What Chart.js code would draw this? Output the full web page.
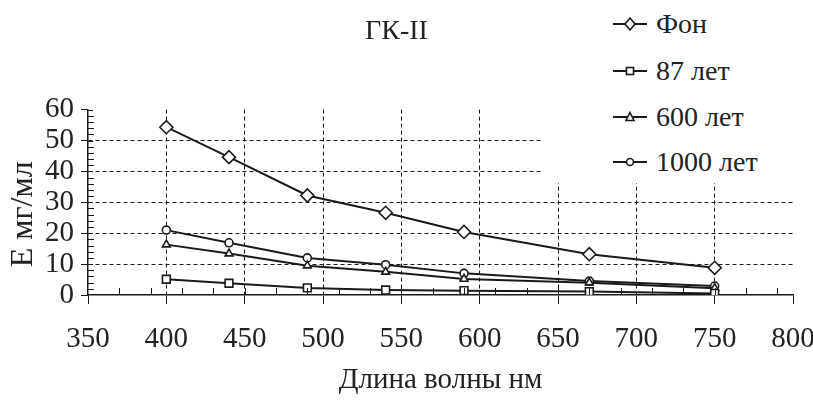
<!DOCTYPE html>
<html><head><meta charset="utf-8">
<script src="https://cdn.jsdelivr.net/npm/chart.js@4/dist/chart.umd.min.js"></script>
<style>
html,body{margin:0;padding:0;background:#fff;}
#legend{position:absolute;left:543px;top:0;width:270px;height:183px;background:#fff;font-size:28px;color:#222;}
</style>
</head><body>
<div style="position:relative;width:813px;height:406px;">
<canvas id="c" width="813" height="406"></canvas>
<div id="legend"></div>
</div>
<script>
// ---- data ----
const wavelengths = [400, 440, 490, 540, 590, 670, 750];
const seriesNames = ['Фон', '87 лет', '600 лет', '1000 лет'];
const fonValues   = [54.3, 44.6, 32.2, 26.6, 20.4, 13.2, 8.8];
const y87Values   = [5.1, 3.8, 2.3, 1.6, 1.4, 1.1, 0.5];
const y600Values  = [16.3, 13.4, 9.5, 7.5, 5.2, 4.0, 2.2];
const y1000Values = [21.0, 16.9, 12.0, 9.8, 7.0, 4.5, 2.9];
const xTickLabels = [350, 400, 450, 500, 550, 600, 650, 700, 750, 800];
const yTickLabels = [0, 10, 20, 30, 40, 50, 60];
const chartTitle = 'ГК-II';
const xTitle = 'Длина волны нм';
const yTitle = 'Е мг/мл';

const seriesValues = [fonValues, y87Values, y600Values, y1000Values];
const markerStyles = ['rectRot', 'rect', 'triangle', 'circle'];
const markerRadius = [6.5, 5.5, 4.5, 4];
const INK = '#1a1a1a';
const SERIF = "'Liberation Serif'";

const datasets = seriesNames.map((name, i) => ({
  label: name,
  data: wavelengths.map((w, k) => ({x: w, y: seriesValues[i][k]})),
  borderColor: INK,
  borderWidth: 2,
  backgroundColor: '#fff',
  pointStyle: markerStyles[i],
  pointRadius: markerRadius[i],
  pointBorderWidth: 1.6,
  pointBorderColor: INK,
  pointBackgroundColor: '#fff',
  tension: 0,
  fill: false
}));

// inward minor tick marks (axis decoration)
const minorTicks = {
  id: 'minorTicks',
  afterDraw(chart) {
    const {ctx, scales: {x, y}} = chart;
    ctx.save();
    ctx.strokeStyle = INK;
    ctx.lineWidth = 1;
    ctx.beginPath();
    const y0 = y.getPixelForValue(0);
    for (let v = 370; v <= 790; v += 20) {
      const px = Math.round(x.getPixelForValue(v)) + 0.5;
      ctx.moveTo(px, y0); ctx.lineTo(px, y0 - 7);
    }
    const x0 = x.getPixelForValue(350);
    for (let v = 2; v <= 60; v += 2) {
      const py = Math.round(y.getPixelForValue(v)) + 0.5;
      ctx.moveTo(x0, py); ctx.lineTo(x0 + (v % 10 === 0 ? 5 : 6), py);
    }
    ctx.stroke();
    ctx.restore();
  }
};

new Chart(document.getElementById('c'), {
  type: 'line',
  data: {datasets},
  options: {
    responsive: false,
    devicePixelRatio: 1,
    animation: false,
    layout: {padding: {left: 0, right: 20, top: 0, bottom: 0}},
    plugins: {
      legend: {display: false},
      tooltip: {enabled: false},
      title: {
        display: true, text: chartTitle, color: '#222',
        font: {family: SERIF, size: 28, weight: 'normal'},
        padding: {top: 15, bottom: 61}
      }
    },
    scales: {
      x: {
        type: 'linear', min: 350, max: 800,
        afterBuildTicks: s => { s.ticks = xTickLabels.map(v => ({value: v})); },
        afterFit: s => { s.height = 111; s.paddingLeft = 0; s.paddingRight = 0; },
        ticks: {color: '#222', font: {family: SERIF, size: 29}, padding: 18, maxRotation: 0, autoSkip: false},
        grid: {
          color: c => (c.tick && c.tick.value > 350 && c.tick.value < 800) ? INK : 'rgba(0,0,0,0)',
          lineWidth: 1, tickLength: 9, tickColor: INK, tickWidth: 1
        },
        border: {display: true, color: INK, width: 1.5, dash: [4, 3]},
        title: {display: true, text: xTitle, color: '#222', font: {family: SERIF, size: 29}, padding: {top: 0, bottom: 8}}
      },
      y: {
        min: 0, max: 60,
        afterBuildTicks: s => { s.ticks = yTickLabels.map(v => ({value: v})); },
        afterFit: s => { s.width = 88; },
        ticks: {color: '#222', font: {family: SERIF, size: 29}, padding: 7, autoSkip: false},
        grid: {
          color: c => (c.tick && c.tick.value > 0 && c.tick.value < 60) ? INK : 'rgba(0,0,0,0)',
          lineWidth: 1, tickLength: 7, tickColor: INK, tickWidth: 1
        },
        border: {display: true, color: INK, width: 1.5, dash: [4, 3]},
        title: {display: true, text: yTitle + '   ', color: '#222', font: {family: SERIF, size: 32}, padding: {top: 4, bottom: 0}}
      }
    }
  },
  plugins: [minorTicks]
});

// HTML legend (overlays the top-right of the plot, like the original)
const legendRowsY = [24, 71, 117, 162];
function markerSvg(i) {
  const s = 'stroke="' + INK + '" stroke-width="1.6" fill="#fff"';
  let m = '';
  if (i === 0) m = '<polygon points="17,2 22,8 17,14 12,8" ' + s + '/>';
  if (i === 1) m = '<rect x="13.5" y="4.5" width="7" height="7" ' + s + '/>';
  if (i === 2) m = '<polygon points="17,3.5 21,11.5 13,11.5" ' + s + '/>';
  if (i === 3) m = '<circle cx="17" cy="8" r="3.5" ' + s + '/>';
  return '<svg width="34" height="16" viewBox="0 0 34 16" style="position:absolute;left:0;top:9px"><line x1="0" y1="8" x2="34" y2="8" stroke="' + INK + '" stroke-width="2"/>' + m + '</svg>';
}
const leg = document.getElementById('legend');
seriesNames.forEach((name, i) => {
  const d = document.createElement('div');
  d.style.cssText = "position:absolute;left:70px;height:34px;width:200px;top:" + (legendRowsY[i] - 17) + "px;";
  d.innerHTML = markerSvg(i);
  const t = document.createElement('div');
  t.style.cssText = "position:absolute;left:43px;top:0;line-height:34px;white-space:nowrap;font-family:'Liberation Serif';font-size:28px;color:#222;";
  t.textContent = name;
  d.appendChild(t);
  leg.appendChild(d);
});
</script>
</body></html>
